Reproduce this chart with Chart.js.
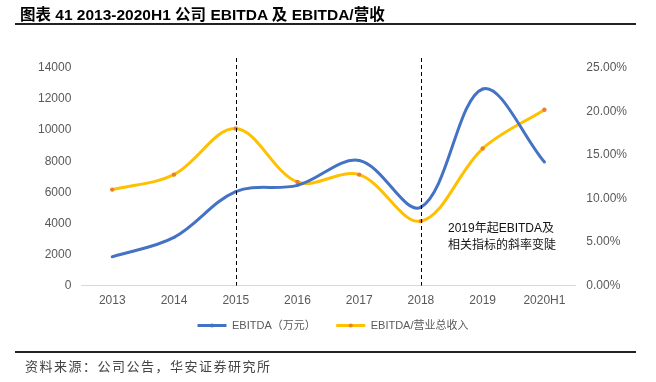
<!DOCTYPE html>
<html>
<head>
<meta charset="utf-8">
<script src="https://cdn.jsdelivr.net/npm/chart.js@4/dist/chart.umd.min.js"></script>
<style>
  html, body { margin: 0; padding: 0; background: #fff; }
  #wrap { position: relative; width: 656px; height: 382px; overflow: hidden; background: #fff; }
  #c { position: absolute; left: 0; top: 0; }
  .title { position: absolute; left: 20px; top: 2px; font: bold 15.5px "Liberation Sans", "Noto Sans CJK SC", sans-serif; color: #000; white-space: nowrap; }
  .rule { position: absolute; left: 15px; width: 621px; height: 1.5px; background: #222; }
  .src { position: absolute; left: 25px; top: 356px; font: 13px "Noto Sans CJK SC", sans-serif; color: #444; white-space: nowrap; letter-spacing: 1.5px; }
  .note { position: absolute; left: 448px; top: 220px; font: 12px "Liberation Sans", "Noto Sans CJK SC", sans-serif; color: #111; line-height: 17px; white-space: nowrap; }
</style>
</head>
<body>
<div id="wrap">
  <canvas id="c" width="656" height="382"></canvas>
  <div class="title">图表 41 2013-2020H1 公司 EBITDA 及 EBITDA/营收</div>
  <div class="rule" style="top:23px"></div>
  <div class="note">2019年起EBITDA及<br>相关指标的斜率变陡</div>
  <div class="rule" style="top:351px"></div>
  <div class="src">资料来源：公司公告，华安证券研究所</div>
</div>
<script>
const categories = ['2013', '2014', '2015', '2016', '2017', '2018', '2019', '2020H1'];
const ebitda = [1850, 3100, 6050, 6450, 8050, 5050, 12650, 7950];
const ebitdaRatio = [11.03, 12.75, 18.05, 11.9, 12.75, 7.41, 15.75, 20.2];
const dashedAt = ['2015', '2018'];
const leftTicks = [0, 2000, 4000, 6000, 8000, 10000, 12000, 14000];
const rightTicks = [0, 5, 10, 15, 20, 25];
const seriesNames = ['EBITDA（万元）', 'EBITDA/营业总收入'];

const FONT = '"Liberation Sans", "Noto Sans CJK SC", sans-serif';

const vlines = {
  id: 'vlines',
  afterDatasetsDraw(chart) {
    const { ctx, chartArea, scales } = chart;
    ctx.save();
    ctx.strokeStyle = '#000';
    ctx.lineWidth = 1;
    ctx.setLineDash([4, 3]);
    dashedAt.forEach(c => {
      const x = Math.round(scales.x.getPixelForValue(categories.indexOf(c))) + 0.5;
      ctx.beginPath();
      ctx.moveTo(x, chartArea.top - 10);
      ctx.lineTo(x, chartArea.bottom);
      ctx.stroke();
    });
    ctx.restore();
  }
};

const legendDots = {
  id: 'legendDots',
  afterDraw(chart) {
    const lg = chart.legend;
    if (!lg || !lg.legendHitBoxes) return;
    const ctx = chart.ctx;
    const cols = ['#4472C4', '#ED7D31'];
    lg.legendHitBoxes.forEach((b, i) => {
      ctx.save();
      ctx.fillStyle = cols[i];
      ctx.beginPath();
      ctx.arc(b.left + 14.5, b.top + b.height / 2, 2, 0, Math.PI * 2);
      ctx.fill();
      ctx.restore();
    });
  }
};

new Chart(document.getElementById('c'), {
  type: 'line',
  data: {
    labels: categories,
    datasets: [
      {
        label: seriesNames[0],
        data: ebitda,
        yAxisID: 'y',
        borderColor: '#4472C4',
        backgroundColor: '#4472C4',
        borderWidth: 3,
        pointRadius: 1.5,
        pointBorderWidth: 0,
        tension: 0.35,
        order: 1
      },
      {
        label: seriesNames[1],
        data: ebitdaRatio,
        yAxisID: 'y1',
        borderColor: '#FFC000',
        backgroundColor: '#ED7D31',
        pointBackgroundColor: '#ED7D31',
        pointBorderColor: '#ED7D31',
        borderWidth: 3,
        pointRadius: 2.2,
        pointBorderWidth: 0,
        tension: 0.35,
        order: 2
      }
    ]
  },
  options: {
    responsive: false,
    animation: false,
    devicePixelRatio: 1,
    layout: { padding: { top: 68, left: 28, right: 18, bottom: 41 } },
    plugins: {
      legend: {
        position: 'bottom',
        labels: {
          usePointStyle: true,
          pointStyle: 'line',
          pointStyleWidth: 29,
          padding: 4,
          color: '#595959',
          font: { family: FONT, size: 11 },
          generateLabels(chart) {
            return chart.data.datasets.map((ds, i) => ({
              text: i === 0 ? ds.label + '\u3000\u3000' : ds.label,
              strokeStyle: ds.borderColor,
              fillStyle: ds.borderColor,
              lineWidth: 3,
              pointStyle: 'line',
              datasetIndex: i,
              fontColor: '#595959'
            }));
          }
        }
      },
      tooltip: { enabled: false }
    },
    scales: {
      x: {
        offset: true,
        grid: { display: false, drawTicks: false, tickLength: 0 },
        border: { display: true, color: '#D9D9D9', width: 1 },
        ticks: { color: '#595959', font: { family: FONT, size: 12 }, padding: 8, maxRotation: 0, autoSkip: false }
      },
      y: {
        position: 'left',
        min: 0, max: 14000,
        grid: { display: false, drawTicks: false, tickLength: 0 },
        border: { display: false },
        afterBuildTicks(scale) { scale.ticks = leftTicks.map(v => ({ value: v })); },
        ticks: { color: '#595959', font: { family: FONT, size: 12 }, padding: 10, callback: v => String(v) }
      },
      y1: {
        position: 'right',
        min: 0, max: 25,
        grid: { display: false, drawTicks: false, tickLength: 0 },
        border: { display: false },
        afterBuildTicks(scale) { scale.ticks = rightTicks.map(v => ({ value: v })); },
        ticks: {
          color: '#595959', font: { family: FONT, size: 12 }, padding: 11,
          callback: v => Number(v).toFixed(2) + '%'
        }
      }
    }
  },
  plugins: [vlines, legendDots]
});
</script>
</body>
</html>
